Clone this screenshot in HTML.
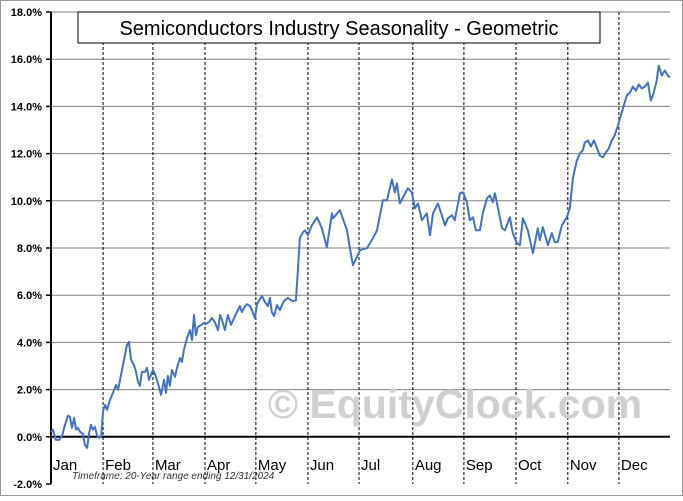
<!DOCTYPE html>
<html><head><meta charset="utf-8"><style>
html,body{margin:0;padding:0;background:#fff;}
svg text{font-family:"Liberation Sans",sans-serif;}
</style></head><body>
<svg id="chart" width="683" height="496" viewBox="0 0 683 496" xmlns="http://www.w3.org/2000/svg">
<rect x="0.5" y="0.5" width="682" height="495" fill="#fff" stroke="#999"/>
<g id="grid"></g>
<text x="455" y="418" font-size="41" font-weight="bold" fill="#cfcfcf" text-anchor="middle">© EquityClock.com</text>
<g id="plot"></g>
<rect x="78" y="12" width="522" height="31" fill="#fff" stroke="#000"/>
<text x="339" y="35" font-size="20" text-anchor="middle" fill="#000">Semiconductors Industry Seasonality - Geometric</text>
<text x="72" y="479" font-size="10" font-style="italic" fill="#333">Timeframe: 20-Year range ending 12/31/2024</text>
</svg>
<script>
const yTicks=[-2,0,2,4,6,8,10,12,14,16,18];
const months=["Jan","Feb","Mar","Apr","May","Jun","Jul","Aug","Sep","Oct","Nov","Dec"];
const monthStarts=[0,21.2,41.5,62.7,83.4,104.6,125.4,147.3,168.1,189.3,210.4,231.2,252];
const days=[0,0.8,2,3.3,4.5,5.7,6.9,7.7,8.5,9.4,10.2,11,11.8,13,13.8,14.7,15.5,16.3,17.1,17.9,18.7,19.5,20.4,21.2,
22,22.8,24,25.2,26.5,27.3,28.5,29.7,30.9,31.7,32.6,33.8,34.6,35.4,36.2,37,38.3,39.1,39.9,40.7,41.5,
42.3,43.5,44.8,46,46.8,47.6,48.4,49.2,50.5,51.3,52.5,53.3,54.1,55.4,56.6,57.4,58.2,59,59.8,61.1,62.3,
63.1,64.3,65.5,66.7,68,68.8,69.6,70.8,72,73.3,74.5,75.7,76.9,77.7,79,79.8,81,81.8,83,83.8,
84.7,85.9,87.1,88.3,89.1,89.9,90.8,92,93.2,94.4,95.2,96.5,97.7,98.5,99.7,100.5,101.3,102.6,
103.4,104.6,106.2,108.3,110.3,112.3,114.4,114.8,117.6,120.5,121.7,122.9,124.5,125.8,128.6,
130.6,132.7,135.1,136.8,138.8,140,140.8,142,143.3,145.3,146.9,148.1,149.4,151,153,154.3,155.5,157.5,
159.1,160.4,161.6,163.2,164.4,166.5,167.7,169.3,170.5,171.8,173,174.6,175.8,177.5,178.7,179.9,180.7,181.9,183.6,184.8,186.8,188,
189.7,190.9,192.1,194.1,196.2,198.2,199,200.2,202.3,203.9,205.1,206.3,208,210,211.2,212.5,214.1,215.3,216.5,
217.3,218.6,219.8,221,222.2,223.4,224.7,225.9,227.1,228.3,229.5,230.8,232,233.2,234.4,235.7,236.9,238.1,239.3,240.5,241.8,243,244.2,245.4,246.6,247.4,248.7,249.9,251.1,251.9];
const values=[0.21,0.30,-0.13,-0.13,0.04,0.51,0.89,0.85,0.38,0.80,0.30,0.38,0.21,0.13,-0.34,-0.47,0.17,0.51,0.30,0.42,0.08,-0.04,0,1.10,
1.35,1.14,1.56,1.86,2.20,1.99,2.62,3.26,3.89,4.02,3.26,3.04,2.75,2.33,2.16,2.75,2.75,2.92,2.41,2.62,2.83,
2.66,2.28,1.78,2.41,1.86,2.58,2.16,2.83,2.54,2.92,3.34,3.17,3.68,4.19,4.52,4.10,5.16,4.31,4.65,4.74,4.82,
4.78,4.86,5.03,4.86,4.52,5.16,4.95,4.52,5.16,4.74,5.03,5.29,5.54,5.29,5.54,5.62,5.54,5.37,5.03,5.58,
5.79,5.96,5.71,5.54,5.88,5.29,5.12,5.58,5.37,5.67,5.79,5.88,5.79,5.75,5.79,7.06,8.41,8.67,
8.75,8.54,8.96,9.30,8.84,8.03,9.47,9.26,9.60,8.75,7.99,7.27,7.61,7.91,7.99,
8.33,8.75,10.02,10.02,10.91,10.36,10.74,9.89,10.15,10.53,10.36,9.68,9.89,9.18,9.47,8.54,9.47,9.89,
9.39,8.96,9.26,9.39,9.18,10.32,10.36,9.94,9.18,9.30,8.75,8.75,9.47,10.11,10.23,9.94,10.32,9.73,8.84,8.75,9.30,8.63,
8.20,8.12,9.26,8.75,7.78,8.84,8.33,8.88,8.12,8.63,8.25,8.25,8.96,9.30,9.68,10.99,11.71,12.01,12.14,
12.47,12.56,12.30,12.56,12.26,11.92,11.84,12.05,12.22,12.56,12.77,13.19,13.62,14.04,14.46,14.59,14.84,14.67,14.93,14.76,14.84,15.01,14.25,14.59,15.10,15.73,15.31,15.52,15.31,15.22];

const X0=51,X1=670,Y0=484,Y1=12,YMIN=-2,YMAX=18,DMAX=252;
const xs=d=>X0+d/DMAX*(X1-X0);
const ys=v=>Y0-(v-YMIN)/(YMAX-YMIN)*(Y0-Y1);
const NS="http://www.w3.org/2000/svg";
const grid=document.getElementById('grid'),plot=document.getElementById('plot');
function mk(tag,attrs,parent){const e=document.createElementNS(NS,tag);for(const k in attrs)e.setAttribute(k,attrs[k]);parent.appendChild(e);return e;}
yTicks.forEach(t=>{
  const y=ys(t);
  if(t!==0&&t!==YMIN){const l=mk('line',{x1:X0,x2:X1,y1:y,y2:y,stroke:'#808080','stroke-width':1},grid);
  
  }
  const tk=mk('line',{x1:X0-5,x2:X0,y1:y,y2:y,stroke:'#000','stroke-width':1.5},grid);
  
  
  const tx=mk('text',{x:X0-9,y:y+4,'font-size':11,'font-weight':'bold','text-anchor':'end',fill:'#000'},grid);
  tx.textContent=t.toFixed(1)+'%';
  
  
});
monthStarts.forEach((d,i)=>{
  if(i>0&&i<monthStarts.length-1){const l=mk('line',{x1:xs(d),x2:xs(d),y1:Y1,y2:Y0,stroke:'#000','stroke-width':1,'stroke-dasharray':'3,2'},grid);
  
  }
  if(i<months.length){const tx=mk('text',{x:xs(d)+2,y:470,'font-size':15,'text-anchor':'start',fill:'#000'},grid);
  tx.textContent=months[i];
  
  }
});
const ax=mk('line',{x1:X0,x2:X0,y1:Y1,y2:Y0,stroke:'#000','stroke-width':2},grid);


const zl=mk('line',{x1:X0,x2:X1,y1:ys(0),y2:ys(0),stroke:'#000','stroke-width':2},grid);


const pts=days.map((d,i)=>xs(d).toFixed(1)+','+ys(values[i]).toFixed(1)).join(' ');
const pl=mk('polyline',{points:pts,fill:'none',stroke:'#4472c4','stroke-width':2,'stroke-linejoin':'round'},plot);


</script>
</body></html>
